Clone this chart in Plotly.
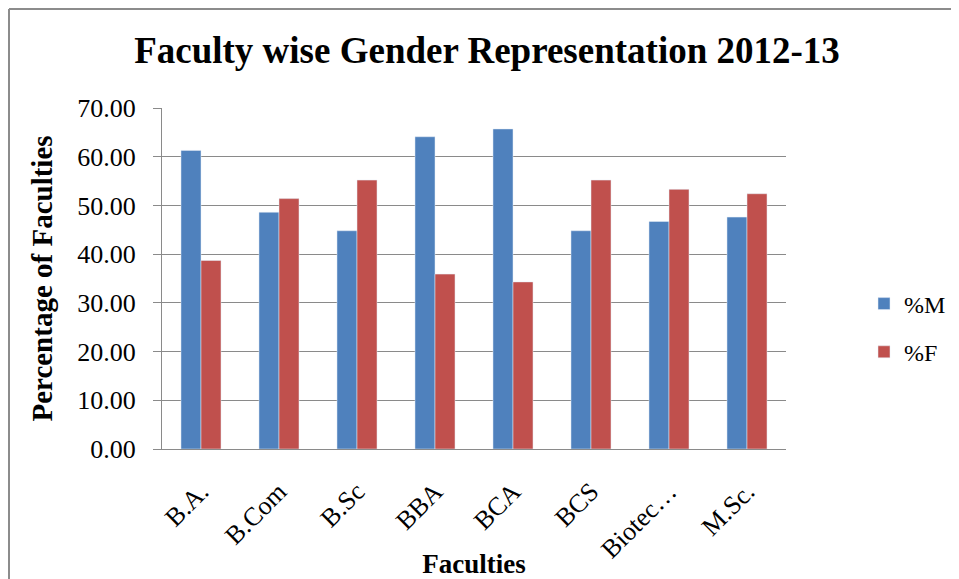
import plotly.graph_objects as go

faculties = ["B.A.", "B.Com", "B.Sc", "BBA", "BCA", "BCS", "Biotec…", "M.Sc."]
pct_male = [61.3, 48.6, 44.8, 64.1, 65.7, 44.8, 46.7, 47.6]
pct_female = [38.7, 51.4, 55.2, 35.9, 34.3, 55.2, 53.3, 52.4]
y_ticks = [0, 10, 20, 30, 40, 50, 60, 70]
y_tick_labels = ["%.2f" % v for v in y_ticks]

FONT = "Liberation Serif, Times New Roman, serif"
GRID = "#8a8a8a"

fig = go.Figure()
fig.add_trace(go.Bar(x=faculties, y=pct_male, name="%M", marker_color="#4F81BD",
                     legendgroup="m"))
fig.add_trace(go.Bar(x=faculties, y=pct_female, name="%F", marker_color="#C0504D",
                     legendgroup="f"))

# page has an 8px body margin: figure pixel = page pixel - 8
W, H = 951, 571
L, T = 154, 100
PR, PB = 778, 441
R, B = W - PR, H - PB
pw, ph = PR - L, PB - T

def fx(p):
    return (p - L) / pw

def fy(p):
    return (PB - p) / ph

fig.update_layout(
    width=W, height=H,
    margin=dict(l=L, r=R, t=T, b=B, autoexpand=False),
    paper_bgcolor="white", plot_bgcolor="white",
    font=dict(family=FONT, color="black"),
    barmode="group", bargap=0.487, bargroupgap=0,
    title=dict(text="<b>Faculty wise Gender Representation 2012-13</b>",
               x=479 / W, xanchor="center", y=1 - 42 / H, yanchor="middle",
               font=dict(family=FONT, size=37, color="black")),
    xaxis=dict(
        title=dict(text="<b>Faculties</b>", font=dict(family=FONT, size=27), standoff=12),
        tickangle=-45, tickfont=dict(family=FONT, size=26),
        ticklabelstandoff=16, automargin=False,
        showline=True, linecolor=GRID, linewidth=1,
        ticks="", showgrid=False,
    ),
    yaxis=dict(
        title=dict(text="<b>Percentage of Faculties</b>", font=dict(family=FONT, size=29), standoff=16),
        range=[0, 70], tickvals=y_ticks, ticktext=y_tick_labels,
        tickfont=dict(family=FONT, size=26),
        ticklabelstandoff=12, automargin=False,
        showgrid=True, gridcolor=GRID, gridwidth=1,
        showline=True, linecolor=GRID, linewidth=1,
        ticks="outside", ticklen=8, tickcolor=GRID,
        zeroline=False,
    ),
    legend=dict(
        x=fx(856), xanchor="left", y=fy(320), yanchor="middle",
        font=dict(family=FONT, size=24), traceorder="grouped", tracegroupgap=14,
        bgcolor="rgba(0,0,0,0)",
    ),
    shapes=[
        dict(type="line", xref="paper", yref="paper",
             x0=fx(1), x1=fx(1), y0=fy(1), y1=fy(600),
             line=dict(color="#8c8c8c", width=2)),
        dict(type="line", xref="paper", yref="paper",
             x0=fx(1), x1=fx(980), y0=fy(1), y1=fy(1),
             line=dict(color="#8c8c8c", width=2)),
    ],
)

fig.write_html("out.html")
